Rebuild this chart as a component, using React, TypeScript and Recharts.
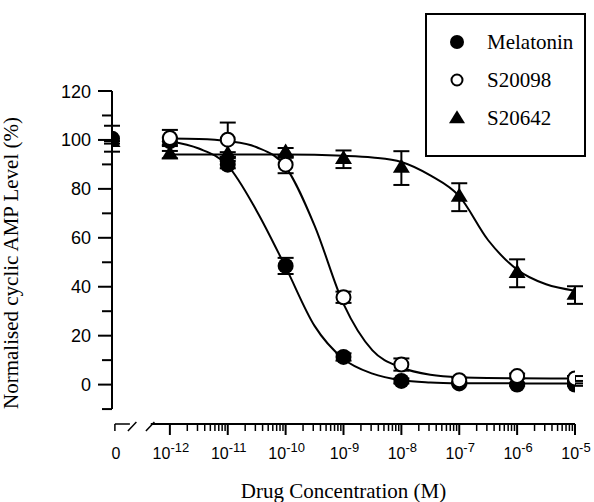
import { ComposedChart, Line, Scatter, XAxis, YAxis, ErrorBar, ReferenceLine, Legend } from 'recharts'

const seriesNames = ['Melatonin', 'S20098', 'S20642']

// x values are log10(concentration); -13 is the drug-free "0" point left of the axis break
const melatoninX = [-13, -12, -11, -10, -9, -8, -7, -6, -5]
const melatoninY = [100.5, 99.5, 89.9, 48.5, 11.3, 1.5, 0.5, 0, 0]
const melatoninErr = [5.3, 1.5, 1.5, 3.3, 1.5, 1, 0.5, 0.5, 0.5]

const s20098X = [-12, -11, -10, -9, -8, -7, -6, -5]
const s20098Y = [100.8, 100.1, 89.9, 35.7, 8.2, 1.8, 3.5, 2.5]
const s20098Err = [3.3, 7, 3.5, 2.3, 2.5, 1, 1, 1]

const s20642X = [-13, -12, -11, -10, -9, -8, -7, -6, -5]
const s20642Y = [99, 94, 94, 94.7, 92.1, 88.5, 76.6, 45.5, 36.6]
const s20642Err = [0.5, 1.5, 1, 2, 3.6, 6.9, 5.7, 5.7, 3.6]

// fitted curves
const fitX = [-12, -11.5, -11, -10.5, -10, -9.5, -9, -8.5, -8, -7.5, -7, -6, -5]
const melatoninFit = [99.5, 96.5, 89.5, 71, 48, 24, 10.5, 4.5, 1.8, 0.9, 0.6, 0.5, 0.5]
const s20098Fit = [100.6, 100.4, 99.5, 97, 89, 65, 33, 14, 7, 4, 3, 2.6, 2.5]
const s20642FitX = [-12, -11, -10, -9, -8.5, -8, -7.5, -7, -6.5, -6, -5.5, -5]
const s20642Fit = [94, 94, 94, 93.5, 92.8, 91, 85.5, 77, 59, 47, 41, 38.4]

// axis ticks
const yLabelTicks = [0, 20, 40, 60, 80, 100, 120]
const yMinorTicks = [-10, 10, 30, 50, 70, 90, 110]
const xLabelTicks = [-12.95, -12, -11, -10, -9, -8, -7, -6, -5]
const xLabelExps = ['', '-12', '-11', '-10', '-9', '-8', '-7', '-6', '-5']
const xMinorTicks = [-12, -11, -10, -9, -8, -7, -6].flatMap((d) =>
  [2, 3, 4, 5, 6, 7, 8, 9].map((k) => d + Math.log10(k))
)

const pts = (xs: number[], ys: number[], errs?: number[]) =>
  xs.map((x, i) => ({ x, y: ys[i], err: errs ? errs[i] : 0 }))

const SANS = "'Liberation Sans', Arial, sans-serif"
const SERIF = "'Liberation Serif', 'Times New Roman', serif"

const FilledCircle = ({ cx, cy, r = 8 }: any) => <circle cx={cx} cy={cy} r={r} fill="#000" />
const OpenCircle = ({ cx, cy, r = 7 }: any) => (
  <circle cx={cx} cy={cy} r={r} fill="#fff" stroke="#000" strokeWidth={2} />
)
const Triangle = ({ cx, cy, w = 17, h = 14 }: any) => (
  <polygon
    points={`${cx},${cy - (2 * h) / 3} ${cx - w / 2},${cy + h / 3} ${cx + w / 2},${cy + h / 3}`}
    fill="#000"
  />
)

const markers: Record<string, any> = {
  Melatonin: (p: any) => <FilledCircle {...p} />,
  S20098: (p: any) => <OpenCircle {...p} />,
  S20642: (p: any) => <Triangle {...p} />,
}

const YTick = ({ x, y, payload }: any) => {
  const v = payload.value
  const major = yLabelTicks.includes(v)
  return (
    <g>
      <line x1={x - (major ? 14 : 10)} x2={x} y1={y} y2={y} stroke="#000" strokeWidth={2} />
      {major && (
        <text x={x - 21} y={y + 6.5} textAnchor="end" style={{ fontFamily: SANS }} fontSize={18} fill="#000">
          {v}
        </text>
      )}
    </g>
  )
}

const XTick = ({ x, y, payload }: any) => {
  const i = xLabelTicks.indexOf(payload.value)
  if (i < 0) return <line x1={x} x2={x} y1={y} y2={y + 7} stroke="#000" strokeWidth={1.5} />
  if (i === 0)
    return (
      <g stroke="#000" strokeWidth={1.5} fill="none">
        <line x1={x} x2={x} y1={y} y2={y + 7} />
        <line x1={x} x2={x + 15} y1={y} y2={y} />
        <line x1={x + 13} x2={x + 21.5} y1={y + 7} y2={y - 2} />
        <line x1={x + 31} x2={x + 39.5} y1={y + 7} y2={y - 2} />
        <text
          x={x + 1}
          y={y + 35}
          textAnchor="middle"
          style={{ fontFamily: SANS }}
          fontSize={16}
          fill="#000"
          stroke="none"
        >
          0
        </text>
      </g>
    )
  return (
    <g>
      <line x1={x} x2={x} y1={y} y2={y + 11} stroke="#000" strokeWidth={2} />
      <text x={x + 1} y={y + 35} textAnchor="middle" style={{ fontFamily: SANS }} fontSize={16} fill="#000">
        10
        <tspan dy={-7} fontSize={13}>
          {xLabelExps[i]}
        </tspan>
      </text>
    </g>
  )
}

const LegendBox = ({ payload }: any) => {
  const items = (payload ?? [])
    .filter((p: any) => seriesNames.includes(p.value))
    .sort((a: any, b: any) => seriesNames.indexOf(a.value) - seriesNames.indexOf(b.value))
  return (
    <svg width={161} height={144} style={{ display: 'block' }}>
      <rect x={1} y={1} width={159} height={142} fill="#fff" stroke="#000" strokeWidth={2} />
      {items.map((p: any, i: number) => {
        const cy = 29 + i * 38
        const sym =
          p.value === 'Melatonin' ? (
            <FilledCircle cx={32} cy={cy} r={7} />
          ) : p.value === 'S20098' ? (
            <OpenCircle cx={32} cy={cy} r={5.5} />
          ) : (
            <Triangle cx={32} cy={cy + 1} w={16} h={13} />
          )
        return (
          <g key={p.value}>
            {sym}
            <text x={62} y={cy + 7} style={{ fontFamily: SERIF }} fontSize={21} fill="#000">
              {p.value}
            </text>
          </g>
        )
      })}
    </svg>
  )
}

export default function App() {
  const scatterData = [
    pts(melatoninX, melatoninY, melatoninErr),
    pts(s20098X, s20098Y, s20098Err),
    pts(s20642X, s20642Y, s20642Err),
  ]
  const fits = [
    pts(fitX, melatoninFit),
    pts(fitX, s20098Fit),
    pts(s20642FitX, s20642Fit),
  ]
  return (
    <div style={{ position: 'absolute', left: 0, top: 0, background: '#fff' }}>
      <ComposedChart width={594} height={502} margin={{ top: 91, right: 19, bottom: 0, left: 0 }}>
        <XAxis
          type="number"
          dataKey="x"
          domain={[-13, -5]}
          allowDataOverflow
          ticks={[...xLabelTicks, ...xMinorTicks]}
          interval={0}
          axisLine={false}
          tickLine={false}
          tickSize={0}
          tickMargin={0}
          tick={<XTick />}
          height={78}
          label={{
            content: ({ viewBox }: any) => (
              <text
                x={viewBox.x + viewBox.width / 2}
                y={498}
                textAnchor="middle"
                style={{ fontFamily: SERIF }}
                fontSize={21}
                fill="#000"
              >
                Drug Concentration (M)
              </text>
            ),
          }}
        />
        <YAxis
          type="number"
          dataKey="y"
          domain={[-16.1, 120]}
          allowDataOverflow
          ticks={[...yMinorTicks, ...yLabelTicks].sort((a, b) => a - b)}
          interval={0}
          axisLine={false}
          tickLine={false}
          tickSize={0}
          tickMargin={0}
          tick={<YTick />}
          width={112}
          label={{
            content: () => (
              <text
                transform="translate(18, 263) rotate(-90)"
                textAnchor="middle"
                style={{ fontFamily: SERIF }}
                fontSize={21}
                fill="#000"
              >
                Normalised cyclic AMP Level (%)
              </text>
            ),
          }}
        />
        <ReferenceLine
          segment={[{ x: -13, y: -10 }, { x: -13, y: 120 }]}
          stroke="#000"
          strokeWidth={2}
          ifOverflow="visible"
        />
        <ReferenceLine
          segment={[{ x: -12.33, y: -16.1 }, { x: -5, y: -16.1 }]}
          stroke="#000"
          strokeWidth={2}
          ifOverflow="visible"
        />
        {fits.map((d, i) => (
          <Line
            key={'fit' + i}
            data={d}
            dataKey="y"
            type="monotone"
            stroke="#000"
            strokeWidth={2}
            dot={false}
            activeDot={false}
            legendType="none"
            isAnimationActive={false}
          />
        ))}
        {seriesNames.map((name, i) => (
          <Scatter
            key={name}
            name={name}
            data={scatterData[i]}
            dataKey="y"
            shape={markers[name]}
            isAnimationActive={false}
          >
            <ErrorBar dataKey="err" direction="y" width={8} stroke="#000" strokeWidth={2} />
          </Scatter>
        ))}
        <Legend
          layout="vertical"
          align="center"
          verticalAlign="middle"
          content={<LegendBox />}
          wrapperStyle={{ left: 425, top: 13, width: 161, height: 144 }}
        />
      </ComposedChart>
    </div>
  )
}
